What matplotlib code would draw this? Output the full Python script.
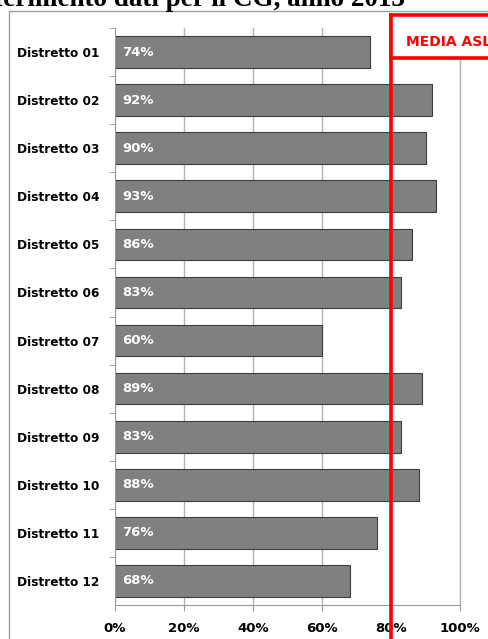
import matplotlib.pyplot as plt
from matplotlib.patches import Rectangle
from matplotlib.lines import Line2D

# dati per distretto
distretti = ['Distretto 01', 'Distretto 02', 'Distretto 03', 'Distretto 04',
             'Distretto 05', 'Distretto 06', 'Distretto 07', 'Distretto 08',
             'Distretto 09', 'Distretto 10', 'Distretto 11', 'Distretto 12']
valori = [74, 92, 90, 93, 86, 83, 60, 89, 83, 88, 76, 68]
media_asl = 80
xticks = [0, 20, 40, 60, 80, 100]
xlabels = ['0%', '20%', '40%', '60%', '80%', '100%']

W, H = 488, 639
fig = plt.figure(figsize=(W / 100, H / 100), dpi=100)

# bordo esterno del grafico
fig.patches.append(Rectangle((9 / W, -0.1), 1.0, 1.1 - 11 / H, transform=fig.transFigure,
                             fill=False, edgecolor='#a0a0a0', linewidth=1))

# titolo (tagliato in alto come nello screenshot)
fig.text(405 / W, 1 - 6.5 / H, 'Riferimento dati per il CG, anno 2013', ha='right', va='baseline',
         fontsize=19.5, fontweight='bold', family='Liberation Serif')

ax = fig.add_axes([115 / W, 1 - 605 / H, 345 / W, 577 / H])
pos = list(range(len(distretti)))
ax.barh(pos, valori, height=0.66, color='#808080', edgecolor='#3c3c46', linewidth=0.8, zorder=2)
for i, v in enumerate(valori):
    ax.text(2, i, f'{v}%', color='white', fontweight='bold', fontsize=9.5,
            va='center', ha='left', zorder=3)

ax.set_xlim(0, 100)
ax.set_ylim(len(distretti) - 0.5, -0.5)
ax.set_yticks(pos)
ax.set_yticklabels(distretti, fontweight='bold', fontsize=8.7)
ax.set_yticks([p + 0.5 for p in pos[:-1]] + [-0.5], minor=True)
ax.tick_params(axis='y', which='major', length=0, pad=11)
ax.tick_params(axis='y', which='minor', length=4, color='#9a9a9a')
ax.set_xticks(xticks)
ax.set_xticklabels(xlabels, fontweight='bold', fontsize=9.5)
ax.tick_params(axis='x', length=4, color='#9a9a9a', pad=8)
ax.grid(axis='x', color='#b4b4b4', linewidth=1, zorder=0)
ax.axvline(100, color='#b4b4b4', linewidth=1, zorder=0, clip_on=False)
for s in ['top', 'right']:
    ax.spines[s].set_visible(False)
for s in ['left', 'bottom']:
    ax.spines[s].set_color('#9a9a9a')

# linea della media ASL
x80 = ax.transData.transform((media_asl, 0))[0] / W
fig.lines.append(Line2D([x80, x80], [0, 1 - 15 / H], transform=fig.transFigure,
                        color='#ff0000', linewidth=2.6, zorder=5))
fig.patches.append(Rectangle((x80, 1 - 58 / H), 0.3, 43 / H, transform=fig.transFigure,
                             facecolor='white', edgecolor='#ff0000', linewidth=2.6, zorder=6))
fig.text(x80 + 15 / W, 1 - 42 / H, 'MEDIA ASL', color='#ff0000', fontweight='bold',
         fontsize=10, va='center', ha='left', zorder=7)

fig.savefig('out.png', dpi=100)
